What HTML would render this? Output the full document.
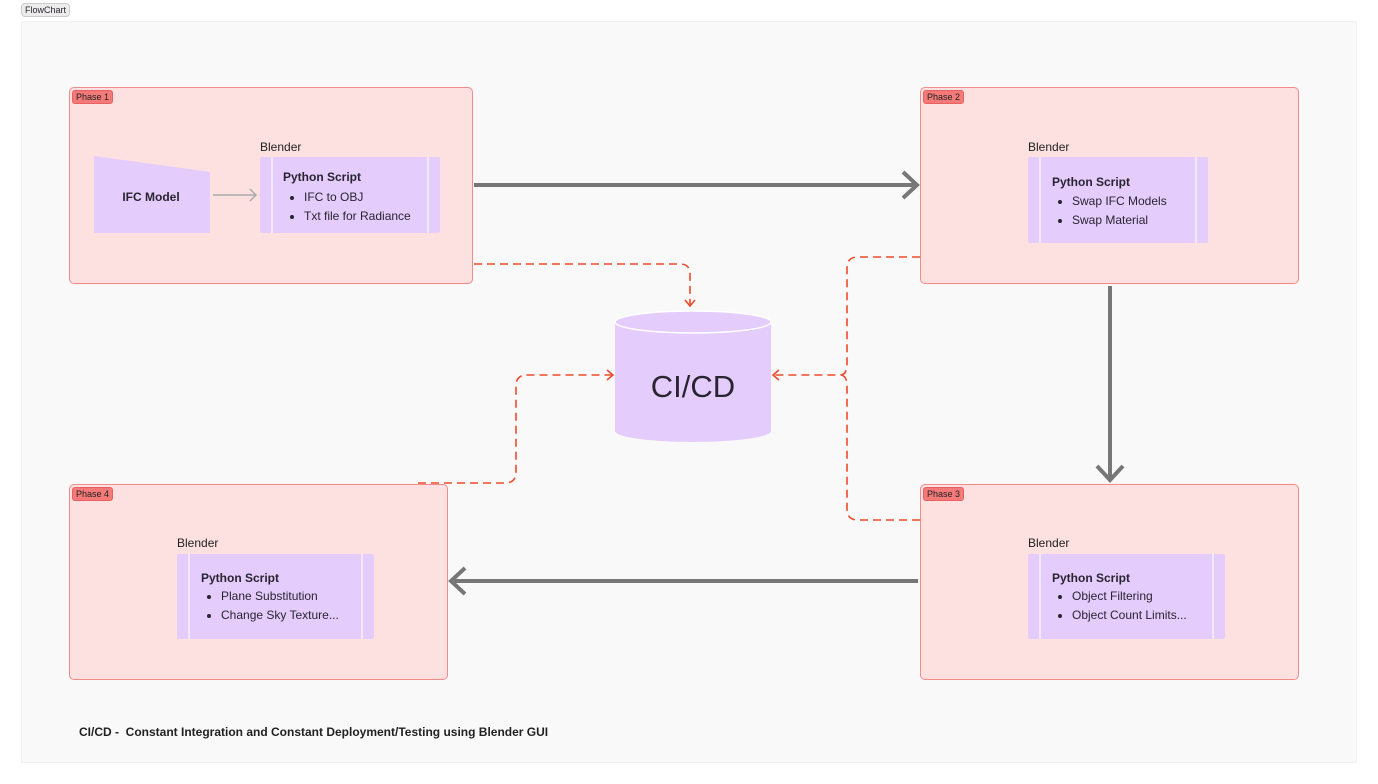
<!DOCTYPE html>
<html><head><meta charset="utf-8"><style>
body{margin:0;width:1378px;height:784px;background:#fff;font-family:"Liberation Sans",sans-serif;position:relative;overflow:hidden;color:#2a2430}
.a{position:absolute}
.phase{position:absolute;background:#fde0e0;border:1px solid #f28b8b;border-radius:5px;box-sizing:border-box}
.tag{position:absolute;left:2px;top:2px;background:#f47a7a;border:1px solid #e86060;border-radius:3px;font-size:9px;padding:1px 3px;color:#222}
.bl{position:absolute;font-size:12px;color:#222}
.sc{position:absolute;background:#e4ccfc;border-radius:2px;box-sizing:border-box}
.sc .d1,.sc .d2{position:absolute;top:0;bottom:0;width:2px;background:#f3e8fd}
.sc .t{position:absolute;font-size:12px;font-weight:bold}
.sc ul{position:absolute;margin:0;padding-left:18px;font-size:12px;line-height:19px}
</style></head><body>
<div class="a" style="left:21px;top:3px;font-size:9px;background:#ececec;border:1px solid #ccc;border-radius:4px;padding:1px 3px">FlowChart</div>
<div class="a" style="left:21px;top:21px;width:1336px;height:742px;background:#f9f9f9;border:1px solid #f2f2f2;box-sizing:border-box"></div>

<div class="phase" style="left:69px;top:87px;width:404px;height:197px"><div class="tag">Phase 1</div></div>
<div class="phase" style="left:920px;top:87px;width:379px;height:197px"><div class="tag">Phase 2</div></div>
<div class="phase" style="left:920px;top:484px;width:379px;height:196px"><div class="tag">Phase 3</div></div>
<div class="phase" style="left:69px;top:484px;width:379px;height:196px"><div class="tag">Phase 4</div></div>

<svg class="a" style="left:0;top:0" width="1378" height="784">
<polygon points="94,156 210,172 210,233 94,233" fill="#e4ccfc"/>
<line x1="213" y1="195" x2="256" y2="195" stroke="#aaa" stroke-width="1.5"/>
<polyline points="250,189 256,195 250,201" fill="none" stroke="#aaa" stroke-width="1.5"/>
<g stroke="#777" stroke-width="4" fill="none">
<line x1="474" y1="185" x2="916" y2="185"/><polyline points="903,172 917,185 903,198"/>
<line x1="1110" y1="286" x2="1110" y2="479"/><polyline points="1097,466 1110,480 1123,466"/>
<line x1="918" y1="581" x2="452" y2="581"/><polyline points="465,568 451,581 465,594"/>
</g>
<g stroke="#ef4a2a" stroke-width="1.6" fill="none" stroke-dasharray="8,5">
<path d="M474,264 H680 Q690,264 690,274 V305"/>
<path d="M418,483 H505 Q516,483 516,472 V386 Q516,375 527,375 H612"/>
<path d="M920,257 H858 Q847,257 847,268 V364 Q847,375 840,375 H775"/>
<path d="M920,520 H858 Q847,520 847,509 V386 Q847,375 840,375"/>
</g>
<g stroke="#ef4a2a" stroke-width="1.6" fill="none">
<polyline points="685,300 690,306 695,300"/>
<polyline points="607,370 613,375 607,380"/>
<polyline points="779,370 773,375 779,380"/>
</g>
<path d="M615,322 V431 A78,11 0 0 0 771,431 V322 Z" fill="#e4ccfc"/>
<ellipse cx="693" cy="322" rx="78" ry="11" fill="#e4ccfc" stroke="#fff" stroke-width="1.5"/>
<text x="693" y="397" font-size="31" text-anchor="middle" fill="#2a2430" font-family="Liberation Sans">CI/CD</text>
<text x="151" y="201" font-size="12" font-weight="bold" text-anchor="middle" fill="#2a2430" font-family="Liberation Sans">IFC Model</text>
</svg>

<div class="bl" style="left:260px;top:140px">Blender</div>
<div class="sc" style="left:260px;top:157px;width:180px;height:76px"><div class="d1" style="left:11px"></div><div class="d2" style="left:167px"></div><div class="t" style="left:23px;top:13px">Python Script</div><ul style="left:26px;top:31px"><li>IFC to OBJ</li><li>Txt file for Radiance</li></ul></div>

<div class="bl" style="left:1028px;top:140px">Blender</div>
<div class="sc" style="left:1028px;top:157px;width:180px;height:86px"><div class="d1" style="left:11px"></div><div class="d2" style="left:167px"></div><div class="t" style="left:24px;top:18px">Python Script</div><ul style="left:26px;top:35px"><li>Swap IFC Models</li><li>Swap Material</li></ul></div>

<div class="bl" style="left:1028px;top:536px">Blender</div>
<div class="sc" style="left:1028px;top:554px;width:197px;height:85px"><div class="d1" style="left:11px"></div><div class="d2" style="left:184px"></div><div class="t" style="left:24px;top:17px">Python Script</div><ul style="left:26px;top:33px"><li>Object Filtering</li><li>Object Count Limits...</li></ul></div>

<div class="bl" style="left:177px;top:536px">Blender</div>
<div class="sc" style="left:177px;top:554px;width:197px;height:85px"><div class="d1" style="left:11px"></div><div class="d2" style="left:184px"></div><div class="t" style="left:24px;top:17px">Python Script</div><ul style="left:26px;top:33px"><li>Plane Substitution</li><li>Change Sky Texture...</li></ul></div>

<div class="a" style="left:79px;top:725px;font-size:12px;font-weight:bold;color:#222">CI/CD -&nbsp; Constant Integration and Constant Deployment/Testing using Blender GUI</div>
</body></html>
